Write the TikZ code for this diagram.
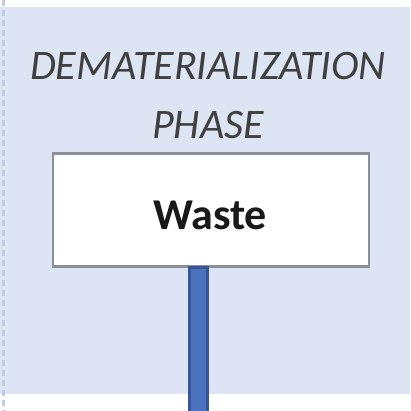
\documentclass[tikz,border=0pt]{standalone}
\usepackage{fontspec}
\setmainfont{Carlito}
\definecolor{bgblue}{RGB}{221,228,243}
\definecolor{dashblue}{RGB}{190,204,233}
\definecolor{boxgray}{RGB}{140,144,153}
\definecolor{barblue}{RGB}{74,114,190}
\definecolor{bardark}{RGB}{56,86,150}
\tikzset{
  phaselabel/.style={font=\fontsize{42}{59}\selectfont\itshape, text=black!75, align=center, inner sep=0pt},
  wastebox/.style={draw=boxgray, line width=2.5pt, fill=white, minimum width=316pt, minimum height=113pt, inner sep=0pt},
  wastetext/.style={font=\fontsize{44}{50}\selectfont\bfseries, text=black!90, inner sep=0pt},
  barline/.style={fill=barblue, draw=bardark, line width=3pt}
}
\begin{document}
\begin{tikzpicture}[x=1pt,y=-1pt]
\useasboundingbox (0,0) rectangle (410,411);
\fill[white] (0,0) rectangle (410,411);
\fill[bgblue] (0,7) rectangle (410,394);
\draw[dashblue, line width=3pt, dash pattern=on 6pt off 4pt] (3.5,0) -- (3.5,411);
\node[phaselabel] (title) at (208,96) {DEMATERIALIZATION\\PHASE};
\node[wastebox] (waste) at (211,210) {};
\node[wastetext] (wastelbl) at (210,215) {Waste};
\coordinate (barend) at (207.5,413);
\filldraw[barline] ([xshift=-21.5pt]waste.south) rectangle (barend);
\end{tikzpicture}
\end{document}
